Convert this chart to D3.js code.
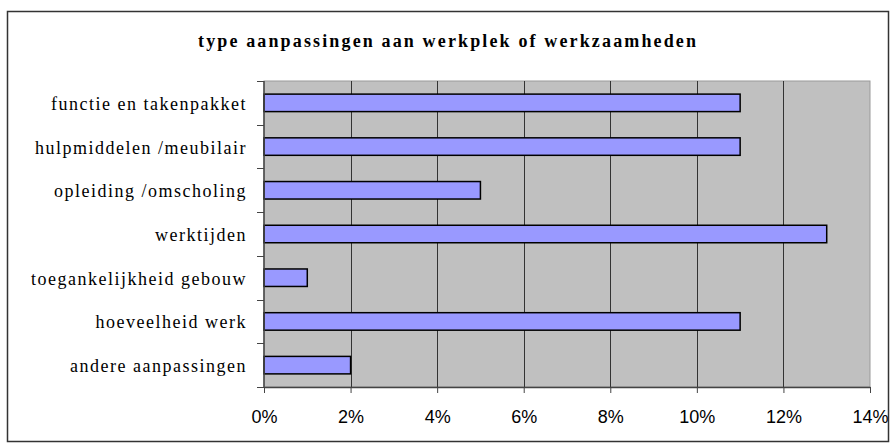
<!DOCTYPE html>
<html>
<head>
<meta charset="utf-8">
<script src="https://cdn.jsdelivr.net/npm/d3@7"></script>
<style>
  html, body { margin: 0; padding: 0; background: #fff; }
  svg { display: block; }
</style>
</head>
<body>
<div id="chart"></div>
<script>
// --- data ---
const categories = [
    "functie en takenpakket",
    "hulpmiddelen /meubilair",
    "opleiding /omscholing",
    "werktijden",
    "toegankelijkheid gebouw",
    "hoeveelheid werk",
    "andere aanpassingen"
];
const values = [0.11, 0.11, 0.05, 0.13, 0.01, 0.11, 0.02];
const xTicks = [0, 0.02, 0.04, 0.06, 0.08, 0.10, 0.12, 0.14];
const title = "type aanpassingen aan werkplek of werkzaamheden";

const SERIF = "Liberation Serif";
const SANS = "Liberation Sans";

const width = 896, height = 445;
const plot = { left: 264, right: 870, top: 81, bottom: 387 };

const svg = d3.select("#chart").append("svg")
    .attr("width", width)
    .attr("height", height);

// outer chart border
svg.append("rect")
    .attr("x", 7.5).attr("y", 11.5)
    .attr("width", 881).attr("height", 430)
    .attr("fill", "#fff")
    .attr("stroke", "#333")
    .attr("stroke-width", 1.5);

// title (stretched like the original Excel rendering)
svg.append("text")
    .attr("x", 198)
    .attr("y", 47)
    .attr("font-family", SERIF)
    .attr("font-weight", "bold")
    .attr("font-size", 18)
    .attr("textLength", 498)
    .attr("lengthAdjust", "spacing")
    .text(title);

const x = d3.scaleLinear()
    .domain([0, 0.14])
    .range([plot.left, plot.right]);

const y = d3.scaleBand()
    .domain(categories)
    .range([plot.top, plot.bottom])
    .paddingInner(0.6)
    .paddingOuter(0.3);

// plot area
svg.append("rect")
    .attr("x", plot.left).attr("y", plot.top)
    .attr("width", plot.right - plot.left)
    .attr("height", plot.bottom - plot.top)
    .attr("fill", "#c0c0c0")
    .attr("stroke", "#9a9a9a")
    .attr("stroke-width", 1);

// vertical gridlines
svg.append("g")
    .selectAll("line")
    .data(xTicks.slice(1, -1))
    .join("line")
    .attr("x1", d => Math.round(x(d)) + 0.5)
    .attr("x2", d => Math.round(x(d)) + 0.5)
    .attr("y1", plot.top)
    .attr("y2", plot.bottom)
    .attr("stroke", "#333")
    .attr("stroke-width", 1);

// bars
svg.append("g")
    .selectAll("rect")
    .data(values)
    .join("rect")
    .attr("x", x(0))
    .attr("y", (d, i) => y(categories[i]))
    .attr("width", d => x(d) - x(0))
    .attr("height", y.bandwidth())
    .attr("fill", "#9999ff")
    .attr("stroke", "#000")
    .attr("stroke-width", 1.5);

// x axis
const xAxis = svg.append("g")
    .attr("transform", `translate(0,${plot.bottom})`)
    .call(d3.axisBottom(x)
        .tickValues(xTicks)
        .tickFormat(d3.format(".0%"))
        .tickSizeOuter(0)
        .tickSizeInner(6)
        .tickPadding(17));
xAxis.attr("font-family", SANS).attr("font-size", 18);
xAxis.select(".domain").attr("stroke", "#444").attr("stroke-width", 1.5);
xAxis.selectAll(".tick line").attr("stroke", "#444");
xAxis.selectAll("text").attr("fill", "#000");

// y axis: ticks between categories (Excel style)
const boundaries = d3.range(categories.length + 1).map(i => plot.top + i * (plot.bottom - plot.top) / categories.length);
svg.append("g")
    .selectAll("line")
    .data(boundaries)
    .join("line")
    .attr("x1", plot.left - 7)
    .attr("x2", plot.left)
    .attr("y1", d => Math.round(d) + 0.5)
    .attr("y2", d => Math.round(d) + 0.5)
    .attr("stroke", "#444");
svg.append("line")
    .attr("x1", plot.left).attr("x2", plot.left)
    .attr("y1", plot.top).attr("y2", plot.bottom)
    .attr("stroke", "#444")
    .attr("stroke-width", 1.5);

svg.append("g")
    .selectAll("text")
    .data(categories)
    .join("text")
    .attr("x", 247)
    .attr("y", d => y(d) + y.bandwidth() / 2 + 7)
    .attr("text-anchor", "end")
    .attr("font-family", SERIF)
    .attr("font-size", 18)
    .attr("letter-spacing", 1.5)
    .text(d => d);
</script>
</body>
</html>
